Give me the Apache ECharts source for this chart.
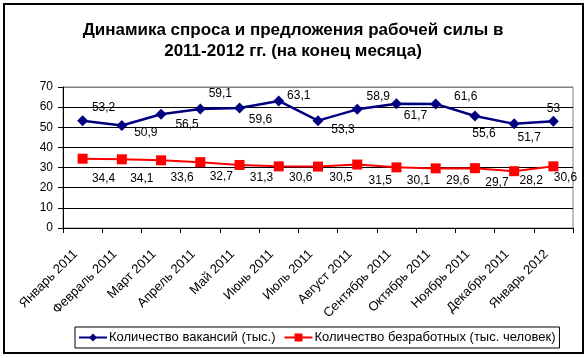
<!DOCTYPE html>
<html>
<head>
<meta charset="utf-8">
<script src="https://cdn.jsdelivr.net/npm/echarts@6/dist/echarts.min.js"></script>
<style>html,body{margin:0;padding:0;background:#fff}#c{width:586px;height:358px}</style>
</head>
<body>
<div id="c"></div>
<script>
const categories = ['Январь 2011', 'Февраль 2011', 'Март 2011', 'Апрель 2011', 'Май 2011', 'Июнь 2011', 'Июль 2011', 'Август 2011', 'Сентябрь 2011', 'Октябрь 2011', 'Ноябрь 2011', 'Декабрь 2011', 'Январь 2012'];
const vacancies = [53.2, 50.9, 56.5, 59.1, 59.6, 63.1, 53.3, 58.9, 61.7, 61.6, 55.6, 51.7, 53];
const unemployed = [34.4, 34.1, 33.6, 32.7, 31.3, 30.6, 30.5, 31.5, 30.1, 29.6, 29.7, 28.2, 30.6];
const seriesNames = ['Количество вакансий (тыс.)', 'Количество безработных (тыс. человек)'];
const titleText = 'Динамика спроса и предложения рабочей силы в\n2011-2012 гг. (на конец месяца)';

// label layout (pixel offsets of each data label from its point)
const vacLabelOffsets = [[21,-13],[24,7],[26,10],[20,-15],[21,12],[20,-5],[25,9],[21,-13],[19,12],[30,-7],[9,18],[15,14],[0,-13]];
const unempLabelOffsets = [[21,20],[20,19],[21,17],[21,15],[22,13],[22,11],[23,11],[23,16],[22,13],[22,12],[22,15],[17,9],[12,11]];

const FONT = '"Liberation Sans", Arial, sans-serif';
const fmt = v => String(v).replace('.', ',');

function build(values, offsets) {
  return values.map((v, i) => ({ value: v, label: { offset: offsets[i] } }));
}

const chart = echarts.init(document.getElementById('c'), null, { renderer: 'canvas' });
chart.setOption({
  animation: false,
  backgroundColor: '#fff',
  textStyle: { fontFamily: FONT },
  title: {
    text: titleText,
    left: 'center',
    top: 15,
    textStyle: { fontFamily: FONT, fontSize: 17, fontWeight: 'bold', color: '#000', lineHeight: 21, align: 'center' }
  },
  graphic: [{
    type: 'rect',
    shape: { x: 4, y: 4, width: 579, height: 349 },
    style: { fill: 'none', stroke: '#000', lineWidth: 2 },
    silent: true
  }],
  legend: {
    left: 75,
    top: 327,
    orient: 'horizontal',
    borderColor: '#000',
    borderWidth: 1,
    padding: [4, 4, 4, 3],
    itemGap: 8,
    itemWidth: 28,
    itemHeight: 10,
    textStyle: { fontFamily: FONT, fontSize: 13, color: '#000', padding: [0, 0, 0, -3] },
    data: seriesNames
  },
  grid: {
    left: 63, right: 13, top: 87, bottom: 130,
    show: true, borderColor: '#808080', borderWidth: 1, backgroundColor: 'transparent'
  },
  xAxis: {
    type: 'category',
    data: categories,
    boundaryGap: true,
    axisLine: { show: true, lineStyle: { color: '#000', width: 1 } },
    axisTick: { show: true, inside: false, length: 5, lineStyle: { color: '#000' } },
    axisLabel: { rotate: 45, margin: 17, color: '#000', fontSize: 13, fontFamily: FONT, interval: 0, padding: [0, 10, 0, 0] },
    splitLine: { show: false }
  },
  yAxis: {
    type: 'value',
    min: 0, max: 70, interval: 10,
    axisLine: { show: true, lineStyle: { color: '#000', width: 1 } },
    axisTick: { show: true, inside: false, length: 5, lineStyle: { color: '#000' } },
    axisLabel: { margin: 10, color: '#000', fontSize: 12, fontFamily: FONT },
    splitLine: { show: true, lineStyle: { color: ['#000','#000','#000','#000','#000','#000','#000','#808080'], width: 1 } }
  },
  series: [
    {
      name: seriesNames[0],
      type: 'line',
      data: build(vacancies, vacLabelOffsets),
      symbol: 'diamond',
      symbolSize: 11,
      itemStyle: { color: '#000080' },
      lineStyle: { color: '#000080', width: 2.5 },
      label: {
        show: true, position: 'inside', align: 'center', verticalAlign: 'middle',
        color: '#000', fontSize: 12, fontFamily: FONT,
        formatter: p => fmt(p.value)
      },
      z: 3
    },
    {
      name: seriesNames[1],
      type: 'line',
      data: build(unemployed, unempLabelOffsets),
      symbol: 'rect',
      symbolSize: 10,
      itemStyle: { color: '#ff0000' },
      lineStyle: { color: '#ff0000', width: 2 },
      label: {
        show: true, position: 'inside', align: 'center', verticalAlign: 'middle',
        color: '#000', fontSize: 12, fontFamily: FONT,
        formatter: p => fmt(p.value)
      },
      z: 2
    }
  ]
});
</script>
</body>
</html>
